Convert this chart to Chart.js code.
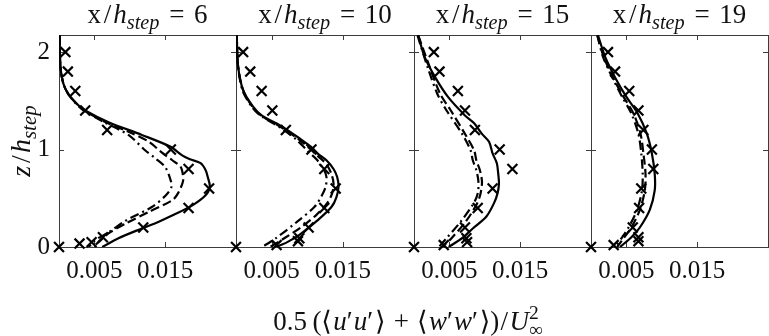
<!DOCTYPE html>
<html><head><meta charset="utf-8">
<script src="https://cdn.jsdelivr.net/npm/chart.js@4/dist/chart.umd.min.js"></script>
<style>
html,body{margin:0;padding:0;background:#fff;}
#wrap{position:relative;width:769px;height:336px;overflow:hidden;}
canvas{position:absolute;left:0;top:0;}
</style></head><body>
<div id="wrap">
<canvas id="c0" width="769" height="336"></canvas>
<canvas id="c1" width="769" height="336"></canvas>
<canvas id="c2" width="769" height="336"></canvas>
<canvas id="c3" width="769" height="336"></canvas>
</div>
<script>
// ---------- data ----------
const panelTitles = ['6', '10', '15', '19'];
const xTickValues = [0.005, 0.015];
const xTickLabels = ['0.005', '0.015'];
const yTickValues = [0, 1, 2];
const yTickLabels = ['0', '1', '2'];

// panel x/h = 6
const p1SolidZ = [2.17,1.85,1.68,1.57,1.47,1.40,1.28,1.15,1.03,0.94,0.90,0.86,0.79,0.72,0.62,0.53,0.43,0.33,0.26,0.19,0.09,0];
const p1SolidV = [0.0001,0.0002,0.0006,0.0013,0.0025,0.0037,0.0070,0.0117,0.0157,0.0174,0.0185,0.0200,0.0207,0.0210,0.0213,0.0207,0.0189,0.0162,0.0141,0.0117,0.0084,0.0061];
const p1DashZ = [2.17,1.85,1.68,1.57,1.47,1.40,1.28,1.18,1.08,0.97,0.89,0.82,0.74,0.67,0.55,0.48,0.36,0.24,0.14,0.05,0];
const p1DashV = [0.0001,0.0002,0.0006,0.0013,0.0025,0.0036,0.0066,0.0099,0.0127,0.0145,0.0160,0.0172,0.0175,0.0175,0.0168,0.0160,0.0127,0.0094,0.0070,0.0056,0.0047];
const p1DotZ = [2.17,1.85,1.68,1.57,1.47,1.40,1.28,1.15,0.99,0.91,0.82,0.70,0.62,0.53,0.41,0.27,0.15,0.07,0];
const p1DotV = [0.0001,0.0002,0.0006,0.0013,0.0024,0.0035,0.0064,0.0098,0.0122,0.0136,0.0150,0.0157,0.0159,0.0151,0.0131,0.0094,0.0070,0.0051,0.0042];
const p1ExpZ = [0,0.035,0.05,0.1,0.2,0.4,0.6,0.8,1.0,1.2,1.4,1.6,1.8,2.0];
const p1ExpV = [0,0.0029,0.0046,0.0062,0.0119,0.0183,0.0212,0.0183,0.0158,0.0068,0.0037,0.0023,0.00125,0.0009];

// panel x/h = 10
const p2SolidZ = [2.17,1.85,1.61,1.44,1.35,1.23,1.10,1.03,0.95,0.89,0.80,0.72,0.62,0.51,0.41,0.27,0.13,0.05,0];
const p2SolidV = [0.0001,0.0003,0.0010,0.0024,0.0036,0.0066,0.0092,0.0105,0.0116,0.0127,0.0137,0.0142,0.0144,0.0141,0.0134,0.0114,0.0090,0.0072,0.0056];
const p2DashZ = [2.17,1.85,1.61,1.44,1.35,1.23,1.10,1.00,0.92,0.85,0.75,0.65,0.55,0.45,0.33,0.20,0.10,0];
const p2DashV = [0.0001,0.0003,0.0010,0.0023,0.0035,0.0063,0.0089,0.0105,0.0117,0.0127,0.0134,0.0137,0.0135,0.0128,0.0113,0.0091,0.0070,0.0048];
const p2DotZ = [2.17,1.85,1.61,1.44,1.35,1.23,1.10,0.99,0.90,0.80,0.72,0.62,0.52,0.41,0.26,0.09,0];
const p2DotV = [0.0001,0.0003,0.0009,0.0022,0.0034,0.0061,0.0085,0.0100,0.0113,0.0123,0.0127,0.0126,0.0120,0.0110,0.0086,0.0056,0.0037];
const p2ExpZ = [0,0.02,0.06,0.09,0.2,0.4,0.6,0.8,1.0,1.2,1.4,1.6,1.8,2.0];
const p2ExpV = [0,0.0057,0.0087,0.0089,0.0102,0.0124,0.0140,0.0124,0.0106,0.0070,0.0051,0.0036,0.0020,0.0010];

// panel x/h = 15
const p3SolidZ = [2.17,1.95,1.74,1.54,1.35,1.27,1.16,1.08,0.96,0.86,0.75,0.65,0.55,0.45,0.31,0.19,0.09,0];
const p3SolidV = [0.0006,0.0015,0.0030,0.0048,0.0072,0.0085,0.0096,0.0106,0.0111,0.0117,0.0119,0.0120,0.0118,0.0113,0.0102,0.0083,0.0068,0.0049];
const p3DashZ = [2.17,1.85,1.57,1.40,1.16,0.99,0.89,0.79,0.67,0.55,0.445,0.27,0.09,0];
const p3DashV = [0.0006,0.0022,0.0037,0.0052,0.0072,0.0085,0.0088,0.0093,0.0096,0.0094,0.0089,0.0074,0.0053,0.0040];
const p3DotZ = [2.17,1.85,1.57,1.40,1.16,0.99,0.89,0.79,0.67,0.55,0.445,0.27,0.09,0];
const p3DotV = [0.0005,0.0019,0.0033,0.0046,0.0068,0.0080,0.0083,0.0088,0.0091,0.0090,0.0084,0.0067,0.0046,0.0035];
const p3ExpZ = [0,0.02,0.05,0.09,0.2,0.4,0.6,0.8,1.0,1.2,1.4,1.6,1.8,2.0];
const p3ExpV = [0,0.0042,0.0075,0.0074,0.0072,0.0090,0.0111,0.0139,0.0121,0.0086,0.0072,0.0062,0.0036,0.0028];

// panel x/h = 19
const p4SolidZ = [2.17,1.95,1.74,1.54,1.37,1.16,0.96,0.75,0.58,0.38,0.20,0.10,0];
const p4SolidV = [0.0010,0.0020,0.0034,0.0050,0.0066,0.0079,0.0086,0.0090,0.0090,0.0083,0.0069,0.0057,0.0041];
const p4DashZ = [2.17,1.95,1.74,1.54,1.37,1.16,0.96,0.75,0.58,0.38,0.20,0.10,0];
const p4DashV = [0.0009,0.0018,0.0031,0.0046,0.0060,0.0070,0.0074,0.0077,0.0076,0.0069,0.0057,0.0047,0.0037];
const p4DotZ = [2.17,1.95,1.74,1.54,1.37,1.16,0.96,0.75,0.58,0.38,0.20,0.10,0];
const p4DotV = [0.0009,0.0017,0.0030,0.0044,0.0057,0.0067,0.0071,0.0073,0.0072,0.0065,0.0053,0.0044,0.0034];
const p4ExpZ = [0,0.02,0.06,0.1,0.2,0.4,0.6,0.8,1.0,1.2,1.4,1.6,1.8,2.0];
const p4ExpV = [0,0.0032,0.0067,0.0067,0.0059,0.0068,0.0071,0.0088,0.0086,0.0074,0.0067,0.0054,0.0034,0.0024];

// ---------- build ----------
const panels = [
  {sZ:p1SolidZ,sV:p1SolidV,dZ:p1DashZ,dV:p1DashV,tZ:p1DotZ,tV:p1DotV,eZ:p1ExpZ,eV:p1ExpV},
  {sZ:p2SolidZ,sV:p2SolidV,dZ:p2DashZ,dV:p2DashV,tZ:p2DotZ,tV:p2DotV,eZ:p2ExpZ,eV:p2ExpV},
  {sZ:p3SolidZ,sV:p3SolidV,dZ:p3DashZ,dV:p3DashV,tZ:p3DotZ,tV:p3DotV,eZ:p3ExpZ,eV:p3ExpV},
  {sZ:p4SolidZ,sV:p4SolidV,dZ:p4DashZ,dV:p4DashV,tZ:p4DotZ,tV:p4DotV,eZ:p4ExpZ,eV:p4ExpV}
];
const panelLeft = [59, 236, 414, 591];
const panelRight = [236, 414, 591, 768];
const W = 769, H = 336;
const FONT = "'Liberation Serif','DejaVu Serif',serif";
const INK = '#111';

function pts(v, z){ return v.map((x,i)=>({x:x, y:z[i]})); }

function segFont(s, base){ return (s.it?'italic ':'') + (base*(s.s||1)).toFixed(2) + 'px ' + FONT; }
function layoutRich(ctx, segs, base){
  let x = 0, lastStart = 0, lastEnd = 0; const items = [];
  for (const s of segs){
    ctx.font = segFont(s, base);
    const tw = ctx.measureText(s.t).width;
    let start = (s.over ? lastStart : x) + (s.pl||0)*base;
    items.push({s, x:start, font:ctx.font});
    const end = start + tw + (s.pr||0)*base;
    if (s.over){ x = Math.max(lastEnd, end); }
    else { lastStart = x + (s.pl||0)*base; x = end; lastEnd = end; }
  }
  return {items, width:x};
}
function drawRich(ctx, segs, base, cx, by){
  const L = layoutRich(ctx, segs, base);
  const x0 = cx - L.width/2;
  ctx.textAlign = 'left'; ctx.textBaseline = 'alphabetic'; ctx.fillStyle = INK;
  for (const it of L.items){
    ctx.font = it.font;
    ctx.fillText(it.s.t, x0 + it.x, by + (it.s.dy||0)*base);
  }
}

const titleSegs = (n) => [
  {t:'x'},{t:'/', pl:0.1, pr:0.08},{t:'h', it:1},{t:'step', it:1, s:0.75, dy:0.22},
  {t:'=', pl:0.36, pr:0.36},{t:n}
];
const yTitleSegs = [{t:'z', it:1},{t:'/', pl:0.1, pr:0.08},{t:'h', it:1},{t:'step', it:1, s:0.75, dy:0.22}];
const xTitleSegs = [
  {t:'0.5'},{t:'(', pl:0.2},{t:'\u27E8', pr:0.05},{t:'u', it:1},{t:'\u2032', pr:0.04},{t:'u', it:1},{t:'\u2032', pr:0.04},{t:'\u27E9', pl:0.03},
  {t:'+', pl:0.3, pr:0.3},
  {t:'\u27E8', pr:0.05},{t:'w', it:1},{t:'\u2032', pr:0.04},{t:'w', it:1},{t:'\u2032', pr:0.04},{t:'\u27E9', pl:0.03},{t:')'},{t:'/', pl:0.05, pr:0.05},{t:'U', it:1},
  {t:'\u221E', s:0.72, dy:0.22},{t:'2', s:0.72, dy:-0.42, over:1}
];

function decoPlugin(idx){
  return {
    id: 'deco'+idx,
    beforeDatasetsDraw(chart){
      const {ctx, chartArea:a, scales} = chart;
      ctx.save();
      ctx.strokeStyle = '#3c3c3c'; ctx.lineWidth = 1;
      ctx.strokeRect(a.left+0.5, a.top+0.5, a.right-a.left, a.bottom-a.top);
      ctx.beginPath();
      const tl = 5;
      for (const v of xTickValues){
        const px = Math.round(scales.x.getPixelForValue(v)) + 0.5;
        ctx.moveTo(px, a.bottom); ctx.lineTo(px, a.bottom - tl);
        ctx.moveTo(px, a.top); ctx.lineTo(px, a.top + tl);
      }
      for (const v of yTickValues){
        if (v === 0) continue;
        const py = Math.round(scales.y.getPixelForValue(v)) + 0.5;
        ctx.moveTo(a.left, py); ctx.lineTo(a.left + tl, py);
        ctx.moveTo(a.right, py); ctx.lineTo(a.right - tl, py);
      }
      ctx.stroke();
      ctx.restore();
    },
    afterDraw(chart){
      const {ctx, chartArea:a} = chart;
      ctx.save();
      drawRich(ctx, titleSegs(panelTitles[idx]), 27, (a.left+a.right)/2, 23);
      if (idx === 0){
        ctx.save();
        ctx.translate(30, (a.top+a.bottom)/2);
        ctx.rotate(-Math.PI/2);
        drawRich(ctx, yTitleSegs, 28, 0, 0);
        ctx.restore();
        drawRich(ctx, xTitleSegs, 27, 408, 330);
      }
      ctx.restore();
    }
  };
}

function lineDs(v, z, dash){
  return {data: pts(v, z), showLine:true, pointRadius:0, borderColor:'#000', borderWidth:2.2,
          borderDash:dash, tension:0.3, fill:false};
}

for (let i = 0; i < 4; i++){
  const P = panels[i];
  const first = i === 0;
  new Chart(document.getElementById('c'+i), {
    type: 'scatter',
    data: { datasets: [
      lineDs(P.sV, P.sZ, []),
      lineDs(P.dV, P.dZ, [9,4]),
      lineDs(P.tV, P.tZ, [9,4,2,4]),
      {data: pts(P.eV, P.eZ), showLine:false, pointStyle:'crossRot', pointRadius:7, pointBorderWidth:2.2,
       borderColor:'#000', backgroundColor:'#000', clip:false}
    ]},
    options: {
      responsive:false, animation:false, devicePixelRatio:1,
      events: [],
      layout: { autoPadding:false, padding:{left: first ? 0 : panelLeft[i], right: W - panelRight[i], top:35, bottom:0} },
      plugins: { legend:{display:false}, tooltip:{enabled:false} },
      scales: {
        x: {
          type:'linear', min:0, max:0.025,
          afterBuildTicks: s => { s.ticks = xTickValues.map(v => ({value:v})); },
          afterFit: s => { s.height = 89; },
          grid:{display:false, drawTicks:false}, border:{display:false},
          ticks:{ font:{family:FONT, size:25}, color:INK, padding:9, maxRotation:0, autoSkip:false,
                  callback: (v) => xTickLabels[xTickValues.indexOf(v)] }
        },
        y: {
          type:'linear', min:0, max:2.175,
          afterBuildTicks: s => { s.ticks = yTickValues.map(v => ({value:v})); },
          afterFit: s => { s.width = first ? 59 : 0; },
          grid:{display:false, drawTicks:false}, border:{display:false},
          ticks:{ display:first, font:{family:FONT, size:25}, color:INK, padding:9,
                  callback: (v) => yTickLabels[yTickValues.indexOf(v)] }
        }
      }
    },
    plugins: [decoPlugin(i)]
  });
}
</script>
</body></html>
